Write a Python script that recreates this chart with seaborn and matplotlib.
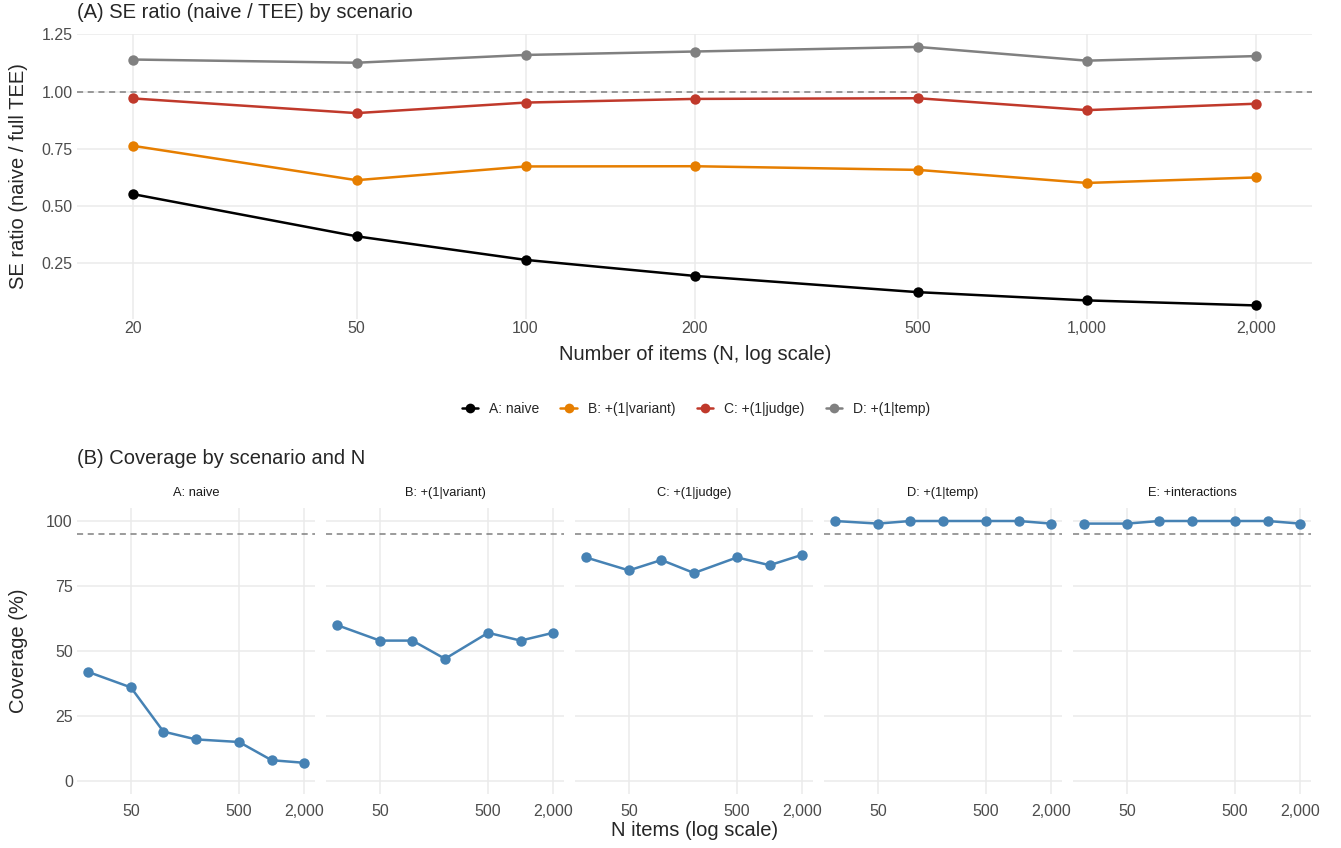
import numpy as np
import pandas as pd
import matplotlib
matplotlib.use("Agg")
import matplotlib.pyplot as plt
from matplotlib.lines import Line2D
from matplotlib.ticker import FixedLocator, NullLocator
import seaborn as sns

# --- data ---
n_items = [20, 50, 100, 200, 500, 1000, 2000]

se_scenarios = ["A: naive", "B: +(1|variant)", "C: +(1|judge)", "D: +(1|temp)"]
se_a = [0.552, 0.368, 0.265, 0.195, 0.124, 0.088, 0.066]
se_b = [0.763, 0.613, 0.673, 0.674, 0.658, 0.601, 0.625]
se_c = [0.970, 0.906, 0.952, 0.968, 0.971, 0.919, 0.947]
se_d = [1.140, 1.126, 1.160, 1.175, 1.195, 1.135, 1.155]

cov_scenarios = ["A: naive", "B: +(1|variant)", "C: +(1|judge)", "D: +(1|temp)", "E: +interactions"]
cov_a = [42, 36, 19, 16, 15, 8, 7]
cov_b = [60, 54, 54, 47, 57, 54, 57]
cov_c = [86, 81, 85, 80, 86, 83, 87]
cov_d = [100, 99, 100, 100, 100, 100, 99]
cov_e = [99, 99, 100, 100, 100, 100, 99]

se_colors = ["#000000", "#E67E00", "#C0392B", "#808080"]

se_df = pd.DataFrame({
    "N": n_items * 4,
    "ratio": se_a + se_b + se_c + se_d,
    "scenario": np.repeat(se_scenarios, len(n_items)),
})
cov_df = pd.DataFrame({
    "N": n_items * 5,
    "coverage": cov_a + cov_b + cov_c + cov_d + cov_e,
    "scenario": np.repeat(cov_scenarios, len(n_items)),
})

sns.set_theme(style="white")
plt.rcParams["font.family"] = ["Liberation Sans", "DejaVu Sans"]

W, H = 1341, 848
fig = plt.figure(figsize=(W / 100, H / 100), dpi=100)

TICK = 11.5
TITLE = 14.5

def px_axes(left, top, right, bottom):
    return fig.add_axes([left / W, 1 - bottom / H, (right - left) / W, (bottom - top) / H])

def ftext(x, y, s, **kw):
    return fig.text(x / W, 1 - y / H, s, **kw)

grid_kw = dict(color="#EBEBEB", linewidth=1.1, zorder=0)
xlim = (10 ** 1.201, 10 ** 3.401)

def style_ax(ax, xpad):
    for s in ax.spines.values():
        s.set_visible(False)
    ax.tick_params(axis="both", length=0, labelsize=TICK, labelcolor="#4D4D4D", pad=3)
    ax.tick_params(axis="x", pad=xpad)
    ax.xaxis.set_minor_locator(NullLocator())
    ax.grid(True, which="major", **grid_kw)
    ax.set_axisbelow(True)
    ax.set_xlabel("")
    ax.set_ylabel("")

# --- panel A: SE ratio ---
ax = px_axes(77, 34, 1312, 318.6)
ax.set_xscale("log")
ax.axhline(1.0, color="#808080", linestyle=(0, (4, 3)), linewidth=1.1, zorder=1)
sns.lineplot(data=se_df, x="N", y="ratio", hue="scenario", hue_order=se_scenarios,
             palette=se_colors, marker="o", markersize=7.5, markeredgewidth=0,
             linewidth=1.8, legend=False, ax=ax, zorder=3)
ax.set_xlim(*xlim)
ax.set_ylim(0.0085, 1.2515)
ax.set_yticks([0.25, 0.50, 0.75, 1.00, 1.25])
ax.set_yticklabels(["0.25", "0.50", "0.75", "1.00", "1.25"])
ax.xaxis.set_major_locator(FixedLocator(n_items))
ax.set_xticklabels([f"{n:,}" for n in n_items])
style_ax(ax, 1.5)
ftext(695, 355, "Number of items (N, log scale)", fontsize=TITLE, ha="center", va="center")
ftext(19, 176, "SE ratio (naive / full TEE)", fontsize=TITLE, ha="center", va="center",
      rotation=90)
ftext(77, 12, "(A) SE ratio (naive / TEE) by scenario", fontsize=TITLE,
      ha="left", va="center")

handles = [Line2D([], [], color=c, marker="o", markersize=7, markeredgewidth=0, linewidth=1.8)
           for c in se_colors]
fig.legend(handles, se_scenarios, loc="center", bbox_to_anchor=(696 / W, 1 - 409 / H),
           ncol=4, frameon=False, fontsize=10, handlelength=1.2, handletextpad=0.8,
           columnspacing=1.5)

# --- panel B: coverage facets ---
ftext(77, 458, "(B) Coverage by scenario and N", fontsize=TITLE, ha="left", va="center")
cov_ticks = [50, 500, 2000]
for i, sc in enumerate(cov_scenarios):
    left = 77 + i * 249
    fax = px_axes(left, 508, left + 238, 794)
    fax.set_xscale("log")
    fax.axhline(95, color="#808080", linestyle=(0, (4, 3)), linewidth=1.1, zorder=1)
    sns.lineplot(data=cov_df[cov_df["scenario"] == sc], x="N", y="coverage",
                 color="#4682B4", marker="o", markersize=7.5, markeredgewidth=0,
                 linewidth=1.8, ax=fax, zorder=3)
    fax.set_xlim(*xlim)
    fax.set_ylim(-5, 105)
    fax.set_yticks([0, 25, 50, 75, 100])
    fax.xaxis.set_major_locator(FixedLocator(cov_ticks))
    fax.set_xticklabels([f"{n:,}" for n in cov_ticks])
    style_ax(fax, 7)
    if i > 0:
        fax.tick_params(axis="y", labelleft=False)
    ftext(left + 119, 493, sc, fontsize=9.3, color="#1A1A1A", ha="center", va="center")

ftext(19, 651, "Coverage (%)", fontsize=TITLE, ha="center", va="center", rotation=90)
ftext(695, 830, "N items (log scale)", fontsize=TITLE, ha="center", va="center")

fig.savefig("out.png", dpi=100, facecolor="white")
